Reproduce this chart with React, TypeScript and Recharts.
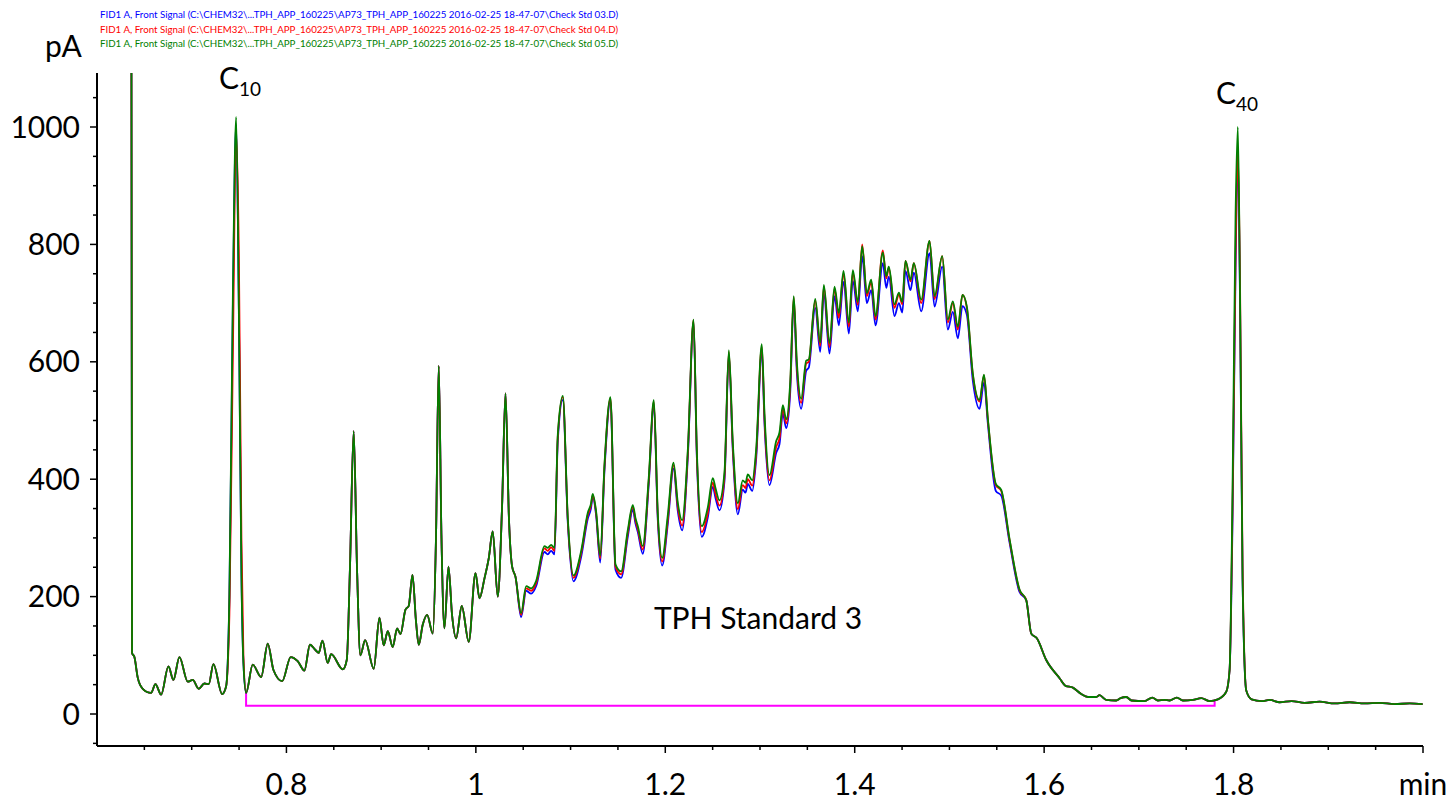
import { Line, LineChart, XAxis, YAxis } from "recharts";

// retention time (min)
const TIME = [
  0.6361, 0.637, 0.6395, 0.643, 0.6483, 0.6571, 0.6617, 0.6677, 0.6754, 0.6807,
  0.687, 0.6958, 0.7011, 0.7074, 0.7134, 0.718, 0.7229, 0.7321, 0.7363, 0.7398,
  0.7435, 0.7469, 0.7498, 0.7525, 0.7546, 0.7574, 0.7644, 0.7733, 0.7803, 0.7863,
  0.7955, 0.8045, 0.8119, 0.819, 0.8248, 0.8306, 0.8341, 0.838, 0.8436, 0.8472,
  0.8595, 0.8637, 0.8671, 0.871, 0.8745, 0.8781, 0.8831, 0.8922, 0.8982, 0.9027,
  0.907, 0.9122, 0.9169, 0.9204, 0.9257, 0.9291, 0.9331, 0.9367, 0.9397, 0.9439,
  0.9486, 0.9545, 0.9579, 0.9608, 0.9637, 0.9668, 0.9711, 0.9748, 0.9792, 0.9851,
  0.9925, 0.9996, 1.0038, 1.0091, 1.0136, 1.0178, 1.0231, 1.0276, 1.0313, 1.035,
  1.0383, 1.0418, 1.0478, 1.0531, 1.0584, 1.0637, 1.0724, 1.0759, 1.0795, 1.083,
  1.0865, 1.0918, 1.0971, 1.1031, 1.1112, 1.1182, 1.1215, 1.1234, 1.127, 1.1313,
  1.1358, 1.1421, 1.1474, 1.1534, 1.1604, 1.1657, 1.1685, 1.171, 1.1762, 1.1826,
  1.1879, 1.1921, 1.1967, 1.2026, 1.2087, 1.2132, 1.2178, 1.2238, 1.2298, 1.2333,
  1.2385, 1.2449, 1.2502, 1.253, 1.2572, 1.2625, 1.2671, 1.2713, 1.2766, 1.2818,
  1.2847, 1.2871, 1.2918, 1.296, 1.3019, 1.3048, 1.31, 1.3171, 1.3206, 1.3241,
  1.3277, 1.3319, 1.3356, 1.3389, 1.3435, 1.3488, 1.3515, 1.3583, 1.3636, 1.3674,
  1.3734, 1.3787, 1.3832, 1.3882, 1.3938, 1.398, 1.4033, 1.4079, 1.4128, 1.4174,
  1.422, 1.4297, 1.4333, 1.436, 1.442, 1.4466, 1.4502, 1.4536, 1.4589, 1.4624,
  1.4702, 1.479, 1.4843, 1.4924, 1.4983, 1.5036, 1.5089, 1.5138, 1.5184, 1.5247,
  1.5318, 1.5365, 1.5406, 1.549, 1.5547, 1.5635, 1.574, 1.5811, 1.5864, 1.5923,
  1.6022, 1.6163, 1.6226, 1.6303, 1.6392, 1.6462, 1.655, 1.6585, 1.6656, 1.6761,
  1.6807, 1.6867, 1.6923, 1.706, 1.7142, 1.7201, 1.7271, 1.7324, 1.7401, 1.7465,
  1.757, 1.7659, 1.7747, 1.7834, 1.7923, 1.7958, 1.7989, 1.8021, 1.8045, 1.8069,
  1.8095, 1.8134, 1.819, 1.8296, 1.838, 1.8486, 1.8612, 1.875, 1.8908, 1.9067,
  1.9225, 1.9383, 1.9542, 1.97, 1.9859, 1.9996,
];

// Check Std 03.D (pA)
const BLUE = [
  1500, 104, 97, 62, 43, 36, 51, 33, 81, 58,
  97, 55, 58, 43, 52, 51, 85, 34, 47, 200,
  700, 1005, 690, 240, 88, 36, 84, 63, 120, 75,
  56, 97, 90, 74, 118, 109, 104, 125, 87, 102,
  76, 92, 250, 482, 250, 100, 126, 77, 164, 117,
  141, 114, 146, 136, 178, 184, 237, 160, 118, 152,
  169, 137, 300, 593, 300, 146, 251, 170, 129, 184,
  123, 240, 197, 231, 265, 311, 200, 350, 546, 330,
  251, 234, 165, 210, 205, 218, 276, 272, 278, 272,
  465, 535, 325, 226, 268, 333, 350, 370, 338, 258,
  415, 534, 246, 232, 302, 348, 325, 310, 273, 393,
  528, 330, 253, 323, 418, 346, 313, 438, 668, 438,
  302, 335, 387, 368, 347, 397, 612, 448, 340, 382,
  377, 392, 380, 436, 618, 493, 390, 445, 460, 512,
  487, 548, 702, 582, 520, 585, 590, 692, 617, 716,
  614, 712, 662, 736, 648, 738, 686, 780, 700, 722,
  662, 768, 726, 745, 678, 700, 684, 755, 722, 752,
  686, 785, 694, 762, 655, 685, 640, 695, 680, 568,
  520, 565, 494, 380, 372, 292, 208, 194, 137, 129,
  92, 61, 48, 45, 34, 29, 29, 32, 24, 23,
  27, 29, 23, 22, 28, 23, 24, 23, 28, 23,
  24, 27, 22, 25, 38, 75, 330, 760, 950, 690,
  230, 40, 25, 22, 24, 20, 22, 19, 21, 18,
  20, 18, 19, 17, 18, 17,
];

// Check Std 04.D (pA)
const RED = [
  1500, 104, 97, 62, 43, 36, 51, 33, 81, 58,
  97, 55, 58, 43, 52, 51, 85, 34, 47, 170,
  620, 990, 780, 300, 100, 36, 84, 63, 120, 75,
  56, 97, 90, 74, 118, 109, 104, 125, 87, 102,
  76, 92, 250, 482, 250, 100, 126, 77, 164, 117,
  141, 114, 146, 136, 178, 184, 237, 160, 118, 152,
  169, 137, 300, 593, 300, 146, 251, 170, 129, 184,
  123, 240, 197, 231, 265, 311, 200, 350, 546, 330,
  251, 234, 169, 214, 210, 223, 282, 278, 284, 278,
  472, 540, 330, 232, 274, 339, 355, 373, 342, 265,
  421, 538, 251, 238, 308, 353, 330, 315, 280, 399,
  532, 336, 260, 330, 424, 353, 321, 444, 671, 444,
  310, 342, 394, 375, 355, 404, 617, 455, 349, 390,
  385, 400, 389, 444, 626, 501, 398, 455, 470, 520,
  495, 558, 710, 592, 530, 597, 600, 704, 627, 728,
  625, 725, 675, 750, 660, 752, 697, 800, 712, 736,
  672, 790, 742, 760, 692, 715, 698, 772, 737, 768,
  700, 806, 707, 780, 667, 700, 655, 714, 692, 578,
  532, 577, 501, 390, 380, 296, 211, 194, 137, 129,
  92, 61, 48, 45, 34, 29, 29, 32, 24, 23,
  27, 29, 23, 22, 28, 23, 24, 23, 28, 23,
  24, 27, 22, 25, 38, 75, 350, 780, 960, 720,
  250, 40, 25, 22, 24, 20, 22, 19, 21, 18,
  20, 18, 19, 17, 18, 17,
];

// Check Std 05.D (pA)
const GREEN = [
  1500, 104, 97, 62, 43, 36, 51, 33, 81, 58,
  97, 55, 58, 43, 52, 51, 85, 34, 47, 205,
  720, 1017, 680, 235, 86, 36, 84, 63, 120, 75,
  56, 97, 90, 74, 118, 109, 104, 125, 87, 102,
  76, 92, 250, 482, 250, 100, 126, 77, 164, 117,
  141, 114, 146, 136, 178, 184, 237, 160, 118, 152,
  169, 137, 300, 593, 300, 146, 251, 170, 129, 184,
  123, 240, 197, 231, 265, 311, 200, 350, 546, 330,
  251, 234, 172, 218, 214, 227, 286, 283, 288, 283,
  476, 542, 333, 236, 278, 343, 358, 375, 345, 270,
  425, 540, 255, 243, 313, 356, 334, 320, 286, 404,
  535, 342, 266, 338, 428, 360, 330, 450, 672, 450,
  320, 352, 402, 385, 364, 412, 620, 462, 359, 398,
  394, 408, 398, 452, 630, 510, 407, 465, 480, 526,
  502, 565, 712, 600, 537, 602, 604, 707, 633, 731,
  632, 728, 683, 755, 667, 756, 702, 797, 717, 740,
  678, 786, 746, 762, 698, 718, 702, 772, 740, 768,
  706, 806, 712, 780, 672, 703, 660, 714, 694, 580,
  535, 578, 503, 392, 382, 298, 212, 194, 137, 129,
  92, 61, 48, 45, 34, 29, 29, 32, 24, 23,
  27, 29, 23, 22, 28, 23, 24, 23, 28, 23,
  24, 27, 22, 25, 38, 75, 380, 850, 1000, 700,
  230, 40, 25, 22, 24, 20, 22, 19, 21, 18,
  20, 18, 19, 17, 18, 17,
];

// integration baseline (magenta)
const BASELINE_TIME = [0.7574, 0.7574, 1.78, 1.78];
const BASELINE_PA = [36, 14, 14, 24];

const X_TICKS = [
  0.65, 0.7, 0.75, 0.8, 0.85, 0.9, 0.95, 1, 1.05, 1.1, 1.15, 1.2, 1.25, 1.3,
  1.35, 1.4, 1.45, 1.5, 1.55, 1.6, 1.65, 1.7, 1.75, 1.8, 1.85, 1.9, 1.95, 2,
];
const X_LABELS: Record<string, string> = {
  "0.80": "0.8",
  "1.00": "1",
  "1.20": "1.2",
  "1.40": "1.4",
  "1.60": "1.6",
  "1.80": "1.8",
  "2.00": "min",
};
const Y_TICKS = [
  -50, 0, 50, 100, 150, 200, 250, 300, 350, 400, 450, 500, 550, 600, 650, 700,
  750, 800, 850, 900, 950, 1000, 1050,
];
const Y_LABELS = [0, 200, 400, 600, 800, 1000];

const HEADER = [
  { text: "FID1 A, Front Signal (C:\\CHEM32\\...TPH_APP_160225\\AP73_TPH_APP_160225 2016-02-25 18-47-07\\Check Std 03.D)", color: "#0000ff" },
  { text: "FID1 A, Front Signal (C:\\CHEM32\\...TPH_APP_160225\\AP73_TPH_APP_160225 2016-02-25 18-47-07\\Check Std 04.D)", color: "#ff0000" },
  { text: "FID1 A, Front Signal (C:\\CHEM32\\...TPH_APP_160225\\AP73_TPH_APP_160225 2016-02-25 18-47-07\\Check Std 05.D)", color: "#008000" },
];

const FONT = "Lato";

function XTick({ x, y, payload }: any) {
  const label = X_LABELS[Number(payload.value).toFixed(2)];
  return (
    <g>
      <line x1={x} y1={y} x2={x} y2={y + (label ? 7 : 4)} stroke="#000" strokeWidth={1.5} />
      {label && (
        <text x={x} y={y + 49} textAnchor="middle" fontSize={30} fontFamily={FONT} fill="#000">
          {label}
        </text>
      )}
    </g>
  );
}

function YTick({ x, y, payload }: any) {
  const major = Y_LABELS.includes(payload.value);
  return (
    <g>
      <line x1={x - (major ? 7 : 4)} y1={y} x2={x} y2={y} stroke="#000" strokeWidth={1.5} />
      {major && (
        <text x={x - 17} y={y + 10.5} textAnchor="end" fontSize={30} fontFamily={FONT} fill="#000">
          {payload.value}
        </text>
      )}
    </g>
  );
}

export default function App() {
  const rows = TIME.map((t, i) => ({ t, blue: BLUE[i], red: RED[i], green: GREEN[i] }));
  const baseline = BASELINE_TIME.map((t, i) => ({ t, pa: BASELINE_PA[i] }));

  return (
    <div style={{ position: "absolute", left: 0, top: 0, width: 1451, height: 800, background: "#fff" }}>
      <LineChart width={1451} height={800} data={rows} margin={{ top: 73, right: 28, bottom: 0, left: 0 }}>
        <XAxis
          type="number"
          dataKey="t"
          domain={[0.6, 2.0]}
          ticks={X_TICKS}
          interval={0}
          allowDataOverflow
          height={54}
          tickSize={0}
          tickMargin={0}
          tickLine={false}
          axisLine={{ stroke: "#000", strokeWidth: 2 }}
          tick={<XTick />}
        />
        <YAxis
          type="number"
          domain={[-54.5, 1092]}
          ticks={Y_TICKS}
          interval={0}
          allowDataOverflow
          width={97}
          tickSize={0}
          tickMargin={0}
          tickLine={false}
          axisLine={{ stroke: "#000", strokeWidth: 2 }}
          tick={<YTick />}
        />
        <Line
          data={baseline}
          dataKey="pa"
          type="linear"
          stroke="#ff00ff"
          strokeWidth={2}
          dot={false}
          isAnimationActive={false}
        />
        <Line dataKey="blue" type="monotone" stroke="#0000ff" strokeWidth={1.8} dot={false} isAnimationActive={false} />
        <Line dataKey="red" type="monotone" stroke="#ff0000" strokeWidth={1.8} dot={false} isAnimationActive={false} />
        <Line dataKey="green" type="monotone" stroke="#008000" strokeWidth={1.8} dot={false} isAnimationActive={false} />
      </LineChart>
      <svg
        width={1451}
        height={800}
        style={{ position: "absolute", left: 0, top: 0, pointerEvents: "none" }}
        fontFamily={FONT}
      >
        {HEADER.map((h, i) => (
          <text
            key={i}
            x={100}
            y={18.3 + i * 14.5}
            fontSize={9.5}
            fill={h.color}
            textLength={518}
            lengthAdjust="spacingAndGlyphs"
          >
            {h.text}
          </text>
        ))}
        <text x={45} y={57} fontSize={30} fill="#000">pA</text>
        <text x={219} y={88.5} fontSize={30} fill="#000">
          C<tspan fontSize={19} dy={7}>10</tspan>
        </text>
        <text x={1216} y={103.5} fontSize={30} fill="#000">
          C<tspan fontSize={19} dy={7}>40</tspan>
        </text>
        <text x={758} y={628.5} textAnchor="middle" fontSize={30} fill="#000">TPH Standard 3</text>
      </svg>
    </div>
  );
}
